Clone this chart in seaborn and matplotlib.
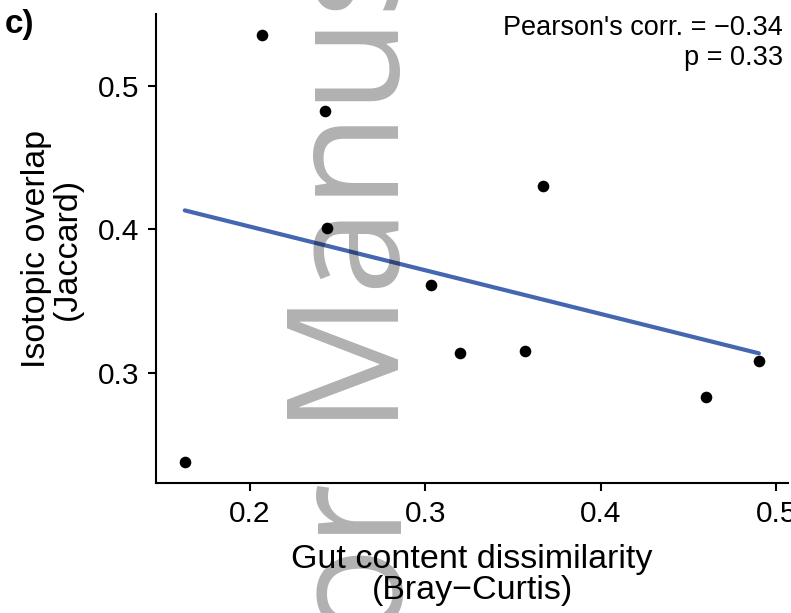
import numpy as np
import pandas as pd
import seaborn as sns
import matplotlib.pyplot as plt

# values
gut_dissim = [0.163, 0.207, 0.243, 0.244, 0.303, 0.320, 0.357, 0.367, 0.460, 0.490]
iso_overlap = [0.238, 0.535, 0.482, 0.401, 0.361, 0.314, 0.315, 0.430, 0.283, 0.308]
x_ticks = [0.2, 0.3, 0.4, 0.5]
y_ticks = [0.3, 0.4, 0.5]
corr_text = "Pearson's corr. = \u22120.34"
p_text = "p = 0.33"

df = pd.DataFrame({"gut": gut_dissim, "iso": iso_overlap})

sns.set_style("ticks")
plt.rcParams['font.family'] = ['Liberation Sans', 'DejaVu Sans']
plt.rcParams['text.color'] = 'black'
plt.rcParams['axes.labelcolor'] = 'black'

W, H = 791, 613
fig = plt.figure(figsize=(W / 100, H / 100), dpi=100)
# axes frame in pixels: left 156, right ~788, top 14, bottom 483
ax = fig.add_axes([156 / W, (H - 483) / H, (788 - 156) / W, (483 - 14) / H])

sns.regplot(data=df, x="gut", y="iso", ax=ax, ci=None, truncate=True,
            scatter_kws=dict(s=70, color="black", alpha=1, linewidths=0, zorder=3),
            line_kws=dict(color="#4566B0", linewidth=3, zorder=2))

ax.set_xlim(0.1466, 0.5066)
ax.set_ylim(0.2232, 0.5499)
ax.set_xticks(x_ticks)
ax.set_yticks(y_ticks)
ax.set_xticklabels([f"{v:.1f}" for v in x_ticks])
ax.set_yticklabels([f"{v:.1f}" for v in y_ticks])
ax.tick_params(axis="both", labelsize=21.5, length=6, width=1.5, color="black",
               labelcolor="black", pad=6)
for side in ["top", "right"]:
    ax.spines[side].set_visible(False)
for side in ["left", "bottom"]:
    ax.spines[side].set_linewidth(1.5)
    ax.spines[side].set_color("black")

ax.set_xlabel("Gut content dissimilarity\n(Bray\u2212Curtis)", fontsize=24.5,
              linespacing=0.97, labelpad=12)
ax.set_ylabel("Isotopic overlap\n(Jaccard)", fontsize=24.5, linespacing=0.97, labelpad=11)

fig.text(783 / W, 1 - 35 / H, corr_text, ha="right", va="baseline", fontsize=19.5)
fig.text(783 / W, 1 - 65 / H, p_text, ha="right", va="baseline", fontsize=19.5)
fig.text(5 / W, 1 - 33 / H, "c)", ha="left", va="baseline", fontsize=24, fontweight="bold")

# "Author Manuscript" watermark, grey over everything
wm = dict(rotation=90, rotation_mode="anchor", va="baseline", fontsize=112,
          family=["Open Sans", "DejaVu Sans"], color="black", alpha=0.31, zorder=10)
fig.text(384 / W, 1 - 418 / H, "Manuscript", ha="left", **wm)
fig.text(402 / W, 1 - 483 / H, "Author", ha="right", **wm)

fig.savefig("out.png", dpi=100)
